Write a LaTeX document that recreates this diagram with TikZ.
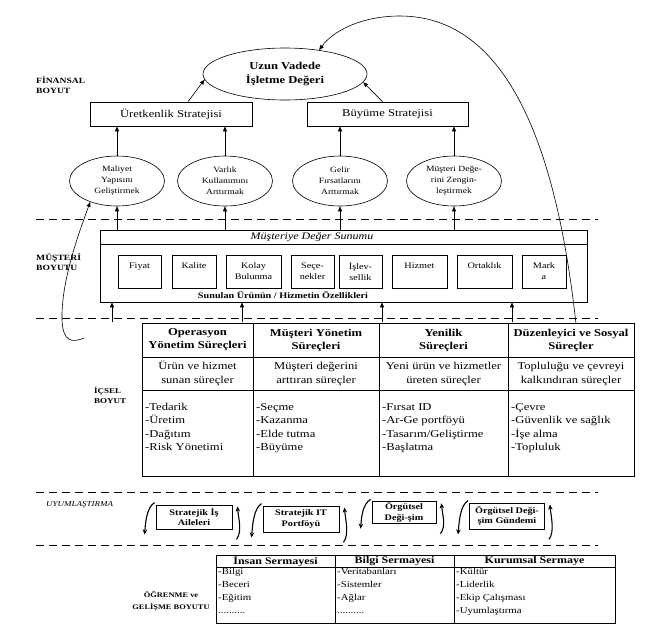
\documentclass[tikz,border=0pt]{standalone}
\usepackage{fontspec}
\setmainfont{Liberation Serif}[FakeStretch=1.2]
\usetikzlibrary{shapes.geometric,arrows.meta}

\begin{document}
\begin{tikzpicture}[x=1pt,y=-1pt,
  kutu/.style={draw,line width=0.7pt,inner sep=1pt,align=center},
  elips/.style={draw,ellipse,line width=0.6pt,inner sep=0pt,align=center},
  hedef/.style={elips,minimum width=95pt,minimum height=50pt,font=\fontsize{8}{11}\selectfont},
  ozellik/.style={kutu,minimum height=33pt,font=\fontsize{8.5}{11}\selectfont},
  uyum/.style={kutu,line width=0.9pt,font=\bfseries\fontsize{8.5}{10.5}\selectfont},
  ok/.style={-{Triangle[length=5pt,width=4pt]},line width=0.6pt},
  donus/.style={-{Stealth[length=5pt,width=4.5pt]},line width=1.1pt},
  kesik/.style={line width=0.9pt,dash pattern=on 8pt off 5pt},
  boyut/.style={font=\bfseries\fontsize{8}{10.5}\selectfont,align=left,inner sep=0pt,anchor=north west}]
\useasboundingbox (0,0) rectangle (663,633);

% finansal boyut
\node[boyut] (lfin) at (36,76) {FİNANSAL\\BOYUT};
\node[elips,minimum width=164pt,minimum height=52pt,font=\bfseries\fontsize{10.5}{14}\selectfont] (deger) at (285,74) {Uzun Vadede\\İşletme Değeri};
\node[kutu,minimum width=162pt,minimum height=24pt,font=\fontsize{10.5}{12}\selectfont] (uret) at (171,114) {Üretkenlik Stratejisi};
\node[kutu,minimum width=161pt,minimum height=24pt,font=\fontsize{10.5}{12}\selectfont] (buyu) at (387.5,114) {Büyüme Stratejisi};
\draw[ok] ([xshift=17pt]uret.north) -- (deger.184);
\draw[ok] ([xshift=-5pt]buyu.north) -- (deger.354);
\node[hedef] (m1) at (117,181) {Maliyet\\Yapısını\\Geliştirmek};
\node[hedef] (m2) at (225,181) {Varlık\\Kullanımını\\Arttırmak};
\node[hedef] (m3) at (340,181) {Gelir\\Fırsatlarını\\Arttırmak};
\node[hedef] (m4) at (454,181) {Müşteri Değe-\\rini Zengin-\\leştirmek};
\foreach \m/\k in {m1/uret,m2/uret,m3/buyu,m4/buyu}
  \draw[ok] (\m.north) -- (\m.north |- \k.south);

\foreach \y in {219,318,492,545}
  \draw[kesik] (36,\y) -- (598,\y);

% musteri boyutu
\node[boyut] (lmus) at (36,253) {MÜŞTERİ\\BOYUTU};
\node[kutu,minimum width=487pt,minimum height=72pt] (sunum) at (343.5,266) {};
\draw[line width=0.7pt] ([yshift=-15pt]sunum.north west) -- ([yshift=-15pt]sunum.north east);
\node[font=\itshape\fontsize{10}{12}\selectfont] (sbas) at (312,237.5) {Müşteriye Değer Sunumu};
\foreach \x/\w/\t [count=\i] in {139.5/43/{Fiyat\\~},194/44/{Kalite\\~},253.5/55/{Kolay\\Bulunma},
    312.5/43/{Seçe-\\nekler},360.5/43/{İşlev-\\sellik},419.5/55/{Hizmet\\~},484.5/55/{Ortaklık\\~},544/44/{Mark\\a}}
  \node[ozellik,minimum width=\w pt] (f\i) at (\x,271.5) {\t};
\node[font=\bfseries\fontsize{8.5}{10}\selectfont,inner sep=0pt] (salt) at (283,295) {Sunulan Ürünün / Hizmetin Özellikleri};
\foreach \m in {m1,m2,m3,m4}
  \draw[ok] (\m.south |- sunum.north) -- (\m.south);
\foreach \x [count=\i] in {112,242,382,512} {
  \coordinate (alt\i) at (\x,322);
  \draw[ok] (alt\i) -- (alt\i |- sunum.south);
}
\coordinate (kanca) at (84,338);
\draw[ok] (kanca) .. controls (72,343) and (63,342) .. (62,320) .. controls (61,280) and (80,230) .. (m1.218);

% icsel boyut
\node[boyut,font=\bfseries\fontsize{7.5}{10}\selectfont] (lic) at (94,387) {İÇSEL\\BOYUT};
\node[draw,line width=0.9pt,minimum width=492pt,minimum height=153pt,anchor=north west,inner sep=0pt] (icsel) at (142,323) {};
\foreach \x in {253,379,508}
  \draw[line width=0.7pt] (\x,323) -- (\x,476);
\foreach \y in {357,390}
  \draw[line width=0.7pt] (142,\y) -- (634,\y);
\foreach \x/\l/\b/\a/\c [count=\i] in {
    197.5/142/{Operasyon\\Yönetim Süreçleri}/{Ürün ve hizmet\\sunan süreçler}/{-Tedarik\\-Üretim\\-Dağıtım\\-Risk Yönetimi},
    316/253/{Müşteri Yönetim\\Süreçleri}/{Müşteri değerini\\arttıran süreçler}/{-Seçme\\-Kazanma\\-Elde tutma\\-Büyüme},
    443.5/379/{Yenilik\\Süreçleri}/{Yeni ürün ve hizmetler\\üreten süreçler}/{-Fırsat ID\\-Ar-Ge portföyü\\-Tasarım/Geliştirme\\-Başlatma},
    571/508/{Düzenleyici ve Sosyal\\Süreçler}/{Topluluğu ve çevreyi\\kalkındıran süreçler}/{-Çevre\\-Güvenlik ve sağlık\\-İşe alma\\-Topluluk}} {
  \node[font=\bfseries\fontsize{10.5}{13}\selectfont,align=center,inner sep=0pt] (sb\i) at (\x,340) {\b};
  \node[font=\fontsize{10.5}{14}\selectfont,align=center,inner sep=0pt] (sa\i) at (\x,373.5) {\a};
  \node[font=\fontsize{10.5}{13.5}\selectfont,align=left,inner sep=0pt,anchor=north west] (sl\i) at (\l+3,403) {\c};
}

% uyumlastirma
\node[font=\itshape\fontsize{7.5}{9}\selectfont,anchor=west,inner sep=0pt] (luyum) at (46,505) {UYUMLAŞTIRMA};
\node[uyum,minimum width=76pt,minimum height=24pt] (u1) at (194,517) {Stratejik İş\\Aileleri};
\node[uyum,minimum width=76pt,minimum height=26pt] (u2) at (301,519) {Stratejik IT\\Portföyü};
\node[uyum,minimum width=64pt,minimum height=21pt] (u3) at (404,512.5) {Örgütsel\\Deği-şim};
\node[uyum,minimum width=75pt,minimum height=26pt] (u4) at (507,516) {Örgütsel Deği-\\şim Gündemi};
\foreach \u in {u1,u2,u3,u4} {
  \draw[donus] ([shift={(-1pt,2pt)}]\u.north west) .. controls +(-8,5) and +(1,-12) .. ([shift={(-11pt,-5pt)}]\u.south west);
  \draw[donus] ([shift={(4pt,-10pt)}]\u.south east) .. controls +(6,-8) and +(1,12) .. ([shift={(5pt,-2pt)}]\u.north east);
}

% ogrenme ve gelisme
\node[font=\bfseries\fontsize{7}{12}\selectfont,align=center,inner sep=0pt] (logr) at (171,601) {ÖĞRENME ve\\GELİŞME BOYUTU};
\node[draw,line width=0.8pt,minimum width=399pt,minimum height=68pt,anchor=north west,inner sep=0pt] (ogren) at (216,555) {};
\draw[line width=0.7pt] (216,567) -- (615,567);
\foreach \x in {335,454}
  \draw[line width=0.7pt] (\x,555) -- (\x,623);
\foreach \x/\l/\b/\c [count=\i] in {
    275.5/216/{İnsan Sermayesi}/{-Bilgi\\-Beceri\\-Eğitim\\..........},
    394.5/335/{Bilgi Sermayesi}/{-Veritabanları\\-Sistemler\\-Ağlar\\..........},
    534.5/454/{Kurumsal Sermaye}/{-Kültür\\-Liderlik\\-Ekip Çalışması\\-Uyumlaştırma}} {
  \node[font=\bfseries\fontsize{10}{12}\selectfont,inner sep=0pt] (ob\i) at (\x,561) {\b};
  \node[font=\fontsize{9}{13}\selectfont,align=left,inner sep=0pt,anchor=north west] (ol\i) at (\l+2,568.5) {\c};
}

% geri besleme
\draw[ok] ([xshift=-59pt]icsel.north east) .. controls (560,180) and (520,16) .. (400,16) .. controls (360,16) and (332,32) .. (deger.35);
\end{tikzpicture}
\end{document}
